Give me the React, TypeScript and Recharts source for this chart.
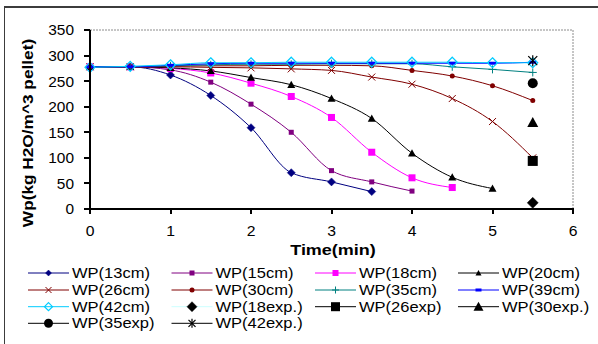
import React from "react";
import { LineChart, Line, XAxis, YAxis, ReferenceLine, Legend } from "recharts";

// Time axis (min) and moisture content per bed height (kg H2O/m^3 pellet)
const times = [0, 0.5, 1, 1.5, 2, 2.5, 3, 3.5, 4, 4.5, 5, 5.5];
const wp13 = [278, 278, 262, 222, 159, 71, 53, 34];
const wp15 = [278, 278, 272, 248, 205, 150, 75, 53, 35];
const wp18 = [278, 278, 275, 266, 246, 220, 179, 111, 61, 42];
const wp20 = [278, 278, 276, 270, 257, 243, 216, 177, 109, 62, 40];
const wp26 = [278, 278, 278, 277, 276, 274, 271, 258, 244, 216, 171, 100];
const wp30 = [278, 278, 279, 280, 280, 281, 281, 280, 271, 260, 241, 212];
const wp35 = [278, 278, 280, 282, 283, 283, 284, 284, 284, 278, 273, 267];
const wp39 = [278, 278, 281, 284, 285, 285, 285, 285, 285, 285, 285, 287];
const wp42 = [277, 279, 282, 286, 286, 287, 287, 287, 287, 287, 286, 286];

// experimental points, all taken at the end of the run
const expTime = 5.5;
const wp18exp = 12;
const wp26exp = 94;
const wp30exp = 169;
const wp35exp = 246;
const wp42exp = 290;

const xTicks = [0, 1, 2, 3, 4, 5, 6];
const yTicks = [0, 50, 100, 150, 200, 250, 300, 350];

type Shape =
  | "diamond"
  | "openDiamond"
  | "square"
  | "triangle"
  | "cross"
  | "circle"
  | "plus"
  | "dash"
  | "star";

interface SeriesDef {
  key: string;
  name: string;
  color: string;
  legendLine: string;
  shape: Shape;
  size: number;
  legendSize: number;
  line: boolean;
}

const series: SeriesDef[] = [
  { key: "wp13", name: "WP(13cm)", color: "#000080", legendLine: "#000080", shape: "diamond", size: 8, legendSize: 6, line: true },
  { key: "wp15", name: "WP(15cm)", color: "#800080", legendLine: "#800080", shape: "square", size: 5, legendSize: 5, line: true },
  { key: "wp18", name: "WP(18cm)", color: "#FF00FF", legendLine: "#FF00FF", shape: "square", size: 7, legendSize: 6, line: true },
  { key: "wp20", name: "WP(20cm)", color: "#000000", legendLine: "#000000", shape: "triangle", size: 8, legendSize: 6, line: true },
  { key: "wp26", name: "WP(26cm)", color: "#800000", legendLine: "#800000", shape: "cross", size: 7, legendSize: 6, line: true },
  { key: "wp30", name: "WP(30cm)", color: "#800000", legendLine: "#800000", shape: "circle", size: 5, legendSize: 5, line: true },
  { key: "wp35", name: "WP(35cm)", color: "#008080", legendLine: "#008080", shape: "plus", size: 8, legendSize: 7, line: true },
  { key: "wp39", name: "WP(39cm)", color: "#0000FF", legendLine: "#0000FF", shape: "dash", size: 7, legendSize: 6, line: true },
  { key: "wp42", name: "WP(42cm)", color: "#00CCFF", legendLine: "#00CCFF", shape: "openDiamond", size: 10, legendSize: 8, line: true },
  { key: "wp18exp", name: "WP(18exp.)", color: "#000000", legendLine: "#CCFFFF", shape: "diamond", size: 11, legendSize: 10, line: false },
  { key: "wp26exp", name: "WP(26exp)", color: "#000000", legendLine: "#000000", shape: "square", size: 10, legendSize: 9, line: false },
  { key: "wp30exp", name: "WP(30exp.)", color: "#000000", legendLine: "#000000", shape: "triangle", size: 11, legendSize: 10, line: false },
  { key: "wp35exp", name: "WP(35exp)", color: "#000000", legendLine: "#000000", shape: "circle", size: 10, legendSize: 9, line: false },
  { key: "wp42exp", name: "WP(42exp.)", color: "#000000", legendLine: "#000000", shape: "star", size: 9, legendSize: 7, line: false },
];

const data = times.map((t, i) => ({
  time: t,
  wp13: wp13[i],
  wp15: wp15[i],
  wp18: wp18[i],
  wp20: wp20[i],
  wp26: wp26[i],
  wp30: wp30[i],
  wp35: wp35[i],
  wp39: wp39[i],
  wp42: wp42[i],
  wp18exp: t === expTime ? wp18exp : undefined,
  wp26exp: t === expTime ? wp26exp : undefined,
  wp30exp: t === expTime ? wp30exp : undefined,
  wp35exp: t === expTime ? wp35exp : undefined,
  wp42exp: t === expTime ? wp42exp : undefined,
}));

const FONT = "'Liberation Sans', Arial, sans-serif";
const AXIS = "#000";

// plot box inside the 598x344 surface
const PLOT = { left: 90, top: 30, right: 573, bottom: 209 };
const X_MAX = 6;
const Y_MAX = 350;

function Marker({ shape, x, y, color, size }: { shape: Shape; x: number; y: number; color: string; size: number }) {
  const h = size / 2;
  switch (shape) {
    case "diamond":
      return <path d={`M${x},${y - h}L${x + h},${y}L${x},${y + h}L${x - h},${y}Z`} fill={color} stroke={color} strokeWidth={0.5} />;
    case "openDiamond":
      return <path d={`M${x},${y - h}L${x + h},${y}L${x},${y + h}L${x - h},${y}Z`} fill="none" stroke={color} strokeWidth={1.2} />;
    case "square":
      return <rect x={x - h} y={y - h} width={size} height={size} fill={color} />;
    case "triangle":
      return <path d={`M${x},${y - h}L${x + h},${y + h * 0.8}L${x - h},${y + h * 0.8}Z`} fill={color} />;
    case "cross":
      return (
        <g stroke={color} strokeWidth={1}>
          <line x1={x - h} y1={y - h} x2={x + h} y2={y + h} />
          <line x1={x - h} y1={y + h} x2={x + h} y2={y - h} />
        </g>
      );
    case "circle":
      return <circle cx={x} cy={y} r={h} fill={color} />;
    case "plus":
      return (
        <g stroke={color} strokeWidth={1}>
          <line x1={x - h} y1={y} x2={x + h} y2={y} />
          <line x1={x} y1={y - h} x2={x} y2={y + h} />
        </g>
      );
    case "dash":
      return <rect x={x - h} y={y - 1.5} width={size} height={3} fill={color} />;
    case "star":
      return (
        <g stroke={color} strokeWidth={1.2}>
          <line x1={x - h} y1={y - h} x2={x + h} y2={y + h} />
          <line x1={x - h} y1={y + h} x2={x + h} y2={y - h} />
          <line x1={x} y1={y - h - 1} x2={x} y2={y + h + 1} />
        </g>
      );
  }
  return null;
}

// text widened along its own direction, as the old chart font runs wide
function WideText({ x, y, text, size, bold, sx, anchor, rotate }: {
  x: number; y: number; text: string; size: number; bold?: boolean; sx: number; anchor: "start" | "middle" | "end"; rotate?: number;
}) {
  return (
    <text
      transform={`translate(${x},${y})${rotate ? ` rotate(${rotate})` : ""} scale(${sx},1)`}
      textAnchor={anchor}
      fontSize={size}
      fontWeight={bold ? "bold" : "normal"}
      fontFamily={FONT}
      fill="#000"
    >
      {text}
    </text>
  );
}

const XTick = ({ x, y, payload }: any) => (
  <WideText x={x} y={y + 27} text={String(payload.value)} size={15} sx={1.05} anchor="middle" />
);

const YTick = ({ x, y, payload }: any) => (
  <WideText x={x - 16} y={y + 5.4} text={String(payload.value)} size={15} sx={1.03} anchor="end" />
);

const LEGEND_COLS = [28, 171.5, 315, 458];
const LEGEND_ROWS = [273, 290, 306.7, 323.3];

function ChartLegend() {
  return (
    <svg width={598} height={82} style={{ display: "block" }}>
      <g transform="translate(0,-262)">
        {series.map((s, i) => {
          const x = LEGEND_COLS[i % 4];
          const y = LEGEND_ROWS[Math.floor(i / 4)];
          return (
            <g key={s.key}>
              <line x1={x} y1={y} x2={x + 41} y2={y} stroke={s.legendLine} strokeWidth={1} />
              <Marker shape={s.shape} x={x + 20.5} y={y} color={s.color} size={s.legendSize} />
              <WideText x={x + 44} y={y + 5} text={s.name} size={14} sx={1.18} anchor="start" />
            </g>
          );
        })}
      </g>
    </svg>
  );
}

// axis frame and tick marks as plain blocks laid over the chart
function AxisFrame() {
  const w = PLOT.right - PLOT.left;
  const h = PLOT.bottom - PLOT.top;
  const block = (key: string, left: number, top: number, width: number, height: number) => (
    <div
      key={key}
      style={{ position: "absolute", left, top, width, height, background: AXIS, zIndex: 5 }}
    />
  );
  return (
    <>
      {block("yaxis", PLOT.left - 1, PLOT.top, 2, h + 1)}
      {block("xaxis", PLOT.left - 1, PLOT.bottom - 1, w + 2, 2)}
      {xTicks.map((t) => block(`xt${t}`, Math.round(PLOT.left + (t / X_MAX) * w) - 1, PLOT.bottom, 2, 5))}
      {yTicks.map((v) => block(`yt${v}`, PLOT.left - 6, Math.round(PLOT.bottom - (v / Y_MAX) * h) - 1, 6, 2))}
    </>
  );
}

const App = () => {
  return (
    <div
      style={{
        position: "absolute",
        left: 0,
        top: 0,
        width: 598,
        height: 344,
        overflow: "hidden",
        background: "#fff",
        fontFamily: FONT,
      }}
    >
      <div
        style={{
          position: "absolute",
          left: 4,
          top: 6,
          width: 700,
          height: 400,
          borderTop: "2px solid #3c3c3c",
          borderLeft: "1px solid #3c3c3c",
        }}
      />
      <div style={{ position: "absolute", left: 0, top: 0 }}>
        <LineChart
          width={598}
          height={344}
          data={data}
          margin={{ top: PLOT.top, right: 598 - PLOT.right, bottom: 105, left: 0 }}
        >
          <ReferenceLine y={Y_MAX} stroke="#8c8c8c" strokeDasharray="2 1" />
          <ReferenceLine x={X_MAX} stroke="#8c8c8c" strokeDasharray="2 1" />
          <XAxis
            dataKey="time"
            type="number"
            domain={[0, X_MAX]}
            ticks={xTicks}
            interval={0}
            height={30}
            stroke={AXIS}
            axisLine={{ stroke: AXIS, strokeWidth: 1.5 }}
            tickLine={false}
            tickSize={0}
            tickMargin={0}
            tick={<XTick />}
            label={{
              content: () => <WideText x={333} y={255} text="Time(min)" size={15} bold sx={1.2} anchor="middle" />,
            }}
          />
          <YAxis
            type="number"
            domain={[0, Y_MAX]}
            ticks={yTicks}
            interval={0}
            width={PLOT.left}
            stroke={AXIS}
            axisLine={{ stroke: AXIS, strokeWidth: 1.5 }}
            tickLine={false}
            tickSize={0}
            tickMargin={0}
            tick={<YTick />}
            label={{
              content: () => (
                <WideText x={33} y={133} text="Wp(kg H2O/m^3 pellet)" size={15} bold sx={1.15} anchor="middle" rotate={-90} />
              ),
            }}
          />
          <Legend
            layout="horizontal"
            verticalAlign="middle"
            align="center"
            wrapperStyle={{ top: 262, left: 0, width: 598, height: 82 }}
            content={() => <ChartLegend />}
          />
          {series.map((s) => (
            <Line
              key={s.key}
              dataKey={s.key}
              name={s.name}
              type="monotone"
              stroke={s.line ? s.color : "none"}
              strokeWidth={1}
              isAnimationActive={false}
              activeDot={false}
              dot={(p: any) =>
                p.cx == null || p.cy == null || p.value == null ? (
                  <g key={`${s.key}-${p.index}`} />
                ) : (
                  <g key={`${s.key}-${p.index}`}>
                    <Marker shape={s.shape} x={p.cx} y={p.cy} color={s.color} size={s.size} />
                  </g>
                )
              }
            />
          ))}
        </LineChart>
      </div>
      <AxisFrame />
    </div>
  );
};

export default App;
